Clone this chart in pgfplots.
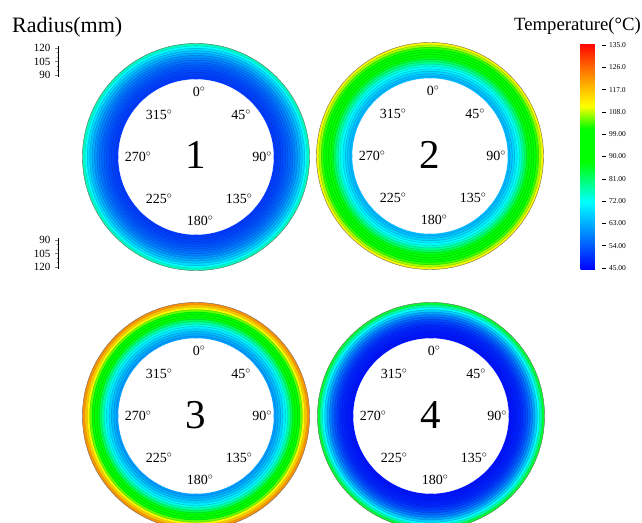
\documentclass[border=0pt]{standalone}
\usepackage{pgfplots}
\pgfplotsset{compat=1.18}
\usepackage{pgfplotstable}
\usepackage{fontspec}
\setmainfont{Liberation Serif}

\pgfplotsset{
  colormap={temp}{rgb255(0pt)=(0,0,255) rgb255(27pt)=(0,255,255) rgb255(43pt)=(0,255,0) rgb255(56pt)=(0,255,0) rgb255(65pt)=(255,255,0) rgb255(72pt)=(255,190,0) rgb255(81pt)=(255,100,0) rgb255(90pt)=(255,0,0)},
  ring/.style={scatter, only marks, mark=*, point meta=\thisrow{T},
    visualization depends on={\thisrow{r} \as \rr},
    scatter/@pre marker code/.append style={/tikz/mark size=1.2*\rr-30.5}},
  hole/.style={only marks, mark=*, mark size=77.5pt, mark options={fill=white, draw=white}},
  rim/.style={only marks, mark=o, mark size=113.5pt, mark options={draw=gray, line width=0.4pt}},
}

% radius (mm) vs temperature (deg C), outer ring first
\pgfplotstableread{
r T
120 76
118 72
116 68
114 65
112 62.5
110 60
108 58
106 56.5
104 55
102 54
100 53
98 52
96 51.5
94 51
92 50.5
}\ringA
\pgfplotstableread{
r T
120 111
118 107
116 103
114 99
112 95
110 91
108 87
106 83
104 79
102 75
100 72
98 69.5
96 67
94 65
92 64
}\ringB
\pgfplotstableread{
r T
120 122
118 117
116 111
114 105
112 99
110 93
108 88
106 83
104 78
102 73.5
100 70
98 67
96 64.5
94 62.5
92 61
}\ringC
\pgfplotstableread{
r T
120 85
118 78
116 72
114 66.5
112 62
110 58
108 55
106 52.5
104 50.5
102 49
100 48
98 47.5
96 47
94 46.6
92 46.3
}\ringD

\newcommand\anglab[2]{%
  \begin{scope}[every node/.style={font=\fontsize{14pt}{16pt}\selectfont, inner sep=0pt}]
  \node at ({#1pt+3pt},{#2pt+65pt}) {0$^{\circ}$};
  \node at ({#1pt+45pt},{#2pt+42pt}) {45$^{\circ}$};
  \node at ({#1pt+66pt},{#2pt}) {90$^{\circ}$};
  \node at ({#1pt+43pt},{#2pt-42pt}) {135$^{\circ}$};
  \node at ({#1pt+4pt},{#2pt-64pt}) {180$^{\circ}$};
  \node at ({#1pt-37pt},{#2pt-42pt}) {225$^{\circ}$};
  \node at ({#1pt-58pt},{#2pt}) {270$^{\circ}$};
  \node at ({#1pt-37pt},{#2pt+42pt}) {315$^{\circ}$};
  \end{scope}}

\begin{document}
\begin{tikzpicture}
\path[use as bounding box] (0,0) rectangle (642pt,522pt);
\begin{axis}[at={(0pt,0pt)}, anchor=south west, x=1pt, y=1pt,
  xmin=0, xmax=642, ymin=0, ymax=522, hide axis,
  colormap name=temp, point meta min=44.19, point meta max=135.81,
  colorbar,
  colorbar style={at={(572pt,252pt)}, anchor=south west,
    scale only axis, width=21pt, height=227pt,
    ytick={45,54,63,72,81,90,99,108,117,126,135},
    yticklabels={45.00,54.00,63.00,72.00,81.00,90.00,99.00,108.0,117.0,126.0,135.0},
    yticklabel style={font=\fontsize{7.5pt}{8pt}\selectfont, /pgf/number format/assume math mode=true},
    ytick pos=right, tick align=outside, major tick length=4pt,
    axis line style={draw=none}, tick style={black, line width=0.4pt}},
]
\addplot[ring] table[x expr=196, y expr=365] {\ringA};
\addplot[hole] coordinates {(196,365)};
\addplot[rim] coordinates {(196,365)};
\addplot[ring] table[x expr=430, y expr=366] {\ringB};
\addplot[hole] coordinates {(430,366)};
\addplot[rim] coordinates {(430,366)};
\addplot[ring] table[x expr=196, y expr=106] {\ringC};
\addplot[hole] coordinates {(196,106)};
\addplot[rim] coordinates {(196,106)};
\addplot[ring] table[x expr=431, y expr=106] {\ringD};
\addplot[hole] coordinates {(431,106)};
\addplot[rim] coordinates {(431,106)};
\end{axis}

% radius scale bars
\begin{axis}[at={(58pt,445.2pt)}, anchor=south west, x=1pt, y=0.9pt,
  xmin=0, xmax=1, ymin=88, ymax=122, axis x line=none, axis y line=left,
  y axis line style={-, line width=0.4pt}, ytick={90,105,120}, minor ytick={95,100,110,115},
  tick align=outside, major tick length=3pt, minor tick length=1.5pt,
  yticklabel style={font=\fontsize{11pt}{12pt}\selectfont, /pgf/number format/assume math mode=true, xshift=-1pt}]
\end{axis}
\begin{axis}[at={(58pt,253.2pt)}, anchor=south west, x=1pt, y=0.9pt, y dir=reverse,
  xmin=0, xmax=1, ymin=88, ymax=122, axis x line=none, axis y line=left,
  y axis line style={-, line width=0.4pt}, ytick={90,105,120}, minor ytick={95,100,110,115},
  tick align=outside, major tick length=3pt, minor tick length=1.5pt,
  yticklabel style={font=\fontsize{11pt}{12pt}\selectfont, /pgf/number format/assume math mode=true, xshift=-1pt}]
\end{axis}

\anglab{196}{365}
\anglab{430}{366}
\anglab{196}{106}
\anglab{431}{106}

\begin{scope}[every node/.style={font=\fontsize{41pt}{45pt}\selectfont, inner sep=0pt}]
\node at (196pt,367pt) {1};
\node at (430pt,367pt) {2};
\node at (196pt,107pt) {3};
\node at (431pt,107pt) {4};
\end{scope}

\node[anchor=base west, inner sep=0pt, font=\fontsize{22pt}{24pt}\selectfont] at (12pt,489pt) {Radius(mm)};
\node[anchor=base east, inner sep=0pt, font=\fontsize{18.7pt}{20pt}\selectfont] at (641pt,491pt) {Temperature(°C)};
\end{tikzpicture}
\end{document}
